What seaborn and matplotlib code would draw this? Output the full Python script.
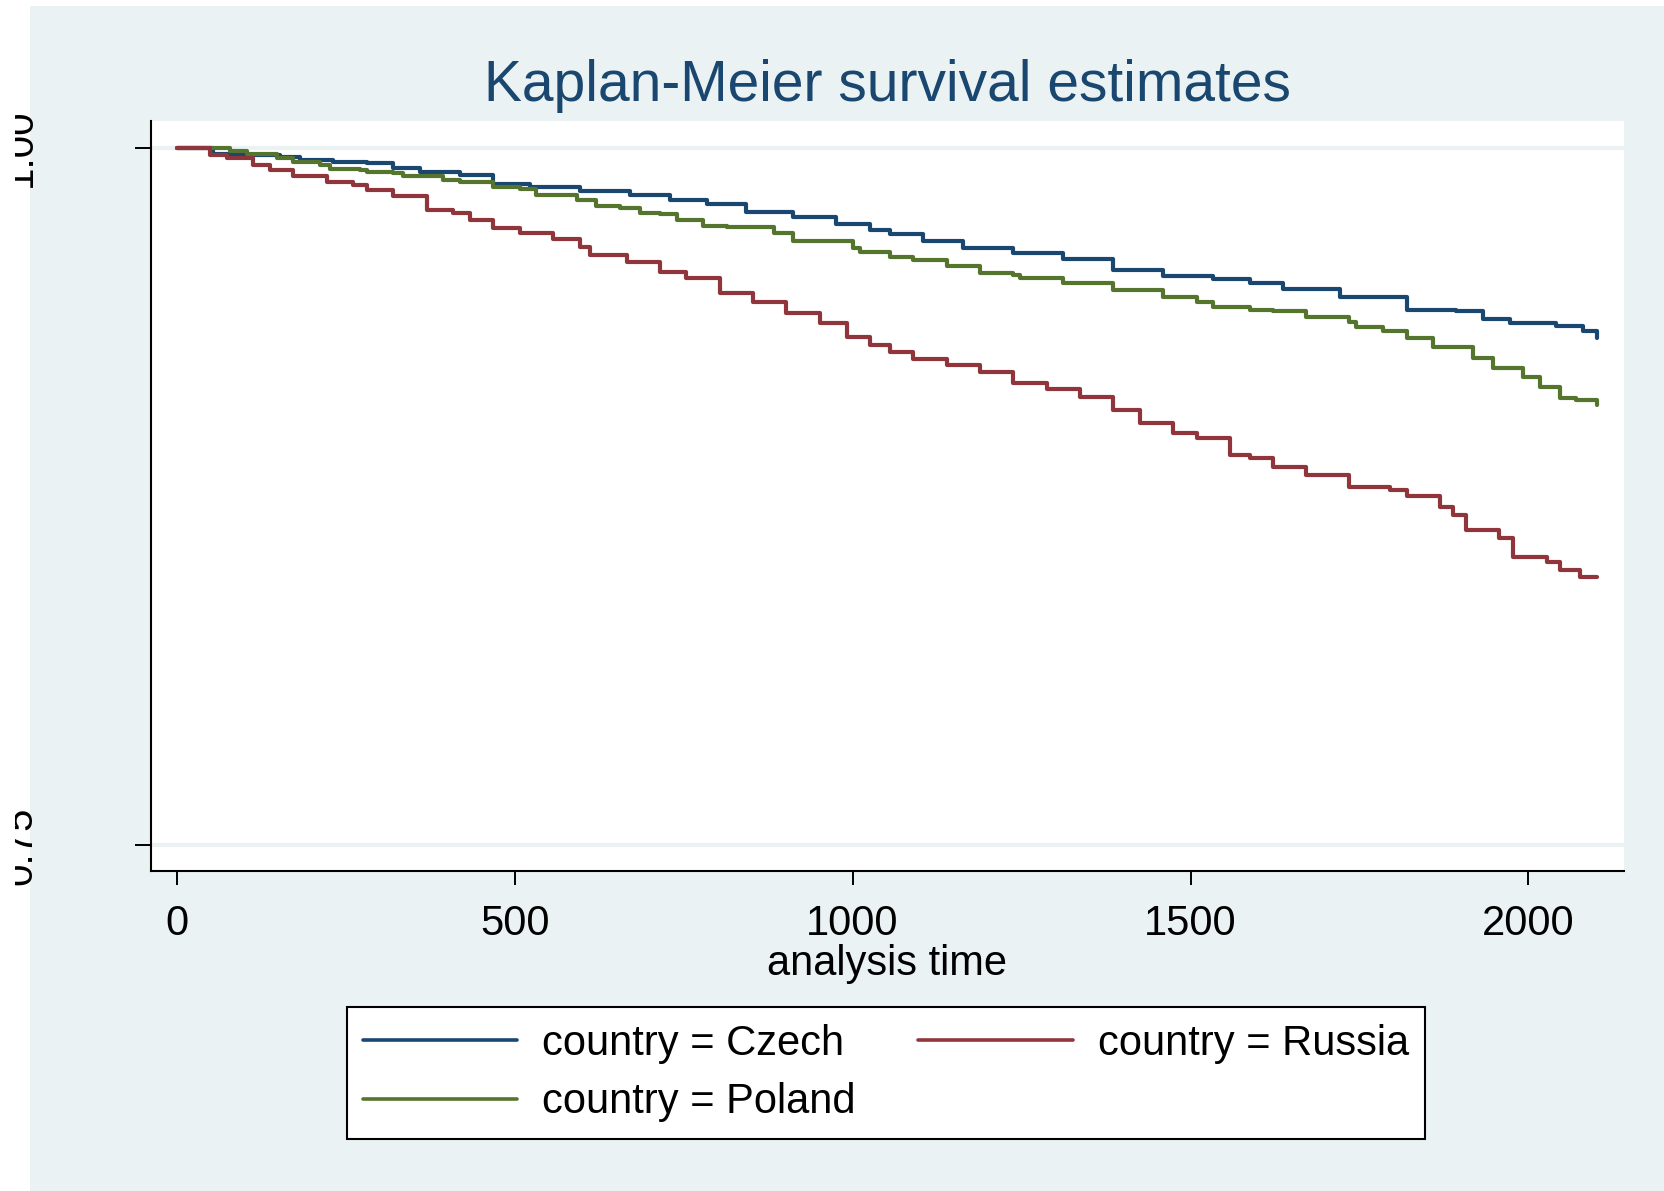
import numpy as np
import pandas as pd
import matplotlib
matplotlib.use("Agg")
import matplotlib.pyplot as plt
import seaborn as sns
from matplotlib.patches import Rectangle
from matplotlib.lines import Line2D
from matplotlib.transforms import Bbox, TransformedBbox, IdentityTransform

# ---------------- data ----------------
countries = ["Czech", "Poland", "Russia"]

czech_time = [0, 54, 89, 153, 182, 232, 281, 320, 360, 419, 468, 523, 597, 671, 730, 784,
              843, 912, 976, 1026, 1055, 1104, 1164, 1238, 1312, 1385, 1459, 1533, 1588,
              1637, 1721, 1820, 1893, 1933, 1972, 2041, 2081, 2101]
czech_surv = [1.0, 0.9977, 0.9974, 0.9968, 0.9956, 0.9948, 0.9944, 0.9926, 0.9914, 0.9902,
              0.9872, 0.9858, 0.9846, 0.9831, 0.9813, 0.9797, 0.9771, 0.9751, 0.9727, 0.9705,
              0.9691, 0.9667, 0.9642, 0.9622, 0.9600, 0.9562, 0.9540, 0.9528, 0.9514, 0.9493,
              0.9466, 0.9418, 0.9415, 0.9386, 0.9373, 0.9361, 0.9344, 0.9319]

poland_time = [0, 79, 104, 148, 172, 212, 227, 271, 281, 320, 335, 394, 419, 468, 508, 532,
               592, 621, 656, 685, 715, 740, 779, 814, 883, 912, 1001, 1011, 1055, 1090, 1139,
               1188, 1238, 1247, 1312, 1385, 1459, 1509, 1533, 1588, 1622, 1671, 1735, 1745,
               1785, 1820, 1859, 1918, 1948, 1992, 2017, 2046, 2071, 2101]
poland_surv = [1.0, 0.9988, 0.9977, 0.9962, 0.9948, 0.9938, 0.9924, 0.9920, 0.9914, 0.9910,
               0.9899, 0.9884, 0.9876, 0.9860, 0.9851, 0.9830, 0.9813, 0.9791, 0.9783, 0.9767,
               0.9762, 0.9743, 0.9721, 0.9717, 0.9695, 0.9666, 0.9640, 0.9627, 0.9607, 0.9598,
               0.9576, 0.9550, 0.9544, 0.9532, 0.9514, 0.9490, 0.9466, 0.9448, 0.9430, 0.9418,
               0.9416, 0.9394, 0.9377, 0.9356, 0.9344, 0.9317, 0.9287, 0.9245, 0.9210, 0.9177,
               0.9144, 0.9102, 0.9096, 0.9078]

russia_time = [0, 49, 74, 113, 138, 172, 222, 261, 281, 320, 370, 409, 434, 468, 508, 557,
               597, 611, 666, 715, 754, 804, 853, 902, 952, 991, 1026, 1055, 1090, 1139, 1188,
               1238, 1287, 1336, 1385, 1425, 1474, 1509, 1558, 1588, 1622, 1671, 1735, 1795,
               1820, 1869, 1888, 1908, 1957, 1977, 2027, 2046, 2076, 2101]
russia_surv = [1.0, 0.9974, 0.9962, 0.9938, 0.9920, 0.9899, 0.9878, 0.9866, 0.9848, 0.9827,
               0.9777, 0.9765, 0.9741, 0.9711, 0.9695, 0.9672, 0.9643, 0.9616, 0.9592, 0.9556,
               0.9532, 0.9478, 0.9448, 0.9407, 0.9371, 0.9323, 0.9293, 0.9269, 0.9242, 0.9221,
               0.9197, 0.9158, 0.9134, 0.9108, 0.9060, 0.9012, 0.8977, 0.8959, 0.8899, 0.8887,
               0.8857, 0.8827, 0.8785, 0.8774, 0.8752, 0.8714, 0.8684, 0.8630, 0.8601, 0.8535,
               0.8517, 0.8487, 0.8463, 0.8463]

x_ticks = [0, 500, 1000, 1500, 2000]
y_ticks = [0.75, 1.00]
y_tick_labels = ["0.75", "1.00"]

title_text = "Kaplan-Meier survival estimates"
x_label = "analysis time"

# ---------------- styling ----------------
colors = {"Czech": "#1a476f", "Poland": "#55752f", "Russia": "#90353b"}
bg = "#EAF2F3"

sns.set_theme(style="white")
plt.rcParams["font.family"] = ["Liberation Sans", "DejaVu Sans"]
plt.rcParams["text.color"] = "black"
plt.rcParams["axes.labelcolor"] = "black"
plt.rcParams["xtick.color"] = "black"
plt.rcParams["ytick.color"] = "black"

W, H = 1665, 1191
fig = plt.figure(figsize=(W / 100, H / 100), dpi=100, facecolor="white")
fig.patches.append(Rectangle((30 / W, 0), 1 - 30 / W, 1 - 6 / H, transform=fig.transFigure,
                             facecolor=bg, edgecolor="none", zorder=-10))

ax = fig.add_axes([150.8 / W, 1 - 870.8 / H, (1624 - 150.8) / W, (870.8 - 121) / H])
ax.set_facecolor("white")

df = pd.concat([
    pd.DataFrame({"time": czech_time, "surv": czech_surv, "country": "Czech"}),
    pd.DataFrame({"time": poland_time, "surv": poland_surv, "country": "Poland"}),
    pd.DataFrame({"time": russia_time, "surv": russia_surv, "country": "Russia"}),
], ignore_index=True)

sns.lineplot(data=df, x="time", y="surv", hue="country", hue_order=countries,
             palette=colors, estimator=None, drawstyle="steps-post", linewidth=3.0,
             legend=False, ax=ax)

ax.set_xlim(-38.3, 2141.3)
ax.set_ylim(0.7409, 1.0096)
ax.set_xticks(x_ticks)
ax.set_xticklabels([str(t) for t in x_ticks], fontsize=30)
ax.set_yticks(y_ticks)
ax.set_yticklabels(y_tick_labels, fontsize=29, rotation=90, va="center")

ax.yaxis.grid(True, color=bg, linewidth=3)
ax.xaxis.grid(False)
ax.set_axisbelow(True)

for s in ["top", "right"]:
    ax.spines[s].set_visible(False)
for s in ["left", "bottom"]:
    ax.spines[s].set_color("black")
    ax.spines[s].set_linewidth(1.5)

ax.tick_params(axis="x", bottom=True, direction="out", length=10, width=1.4,
               color="black", pad=14, labelcolor="black")
ax.tick_params(axis="y", left=True, direction="out", length=11.5, width=1.4,
               color="black", pad=69, labelcolor="black")

ax.set_xlabel(x_label, fontsize=30, labelpad=0, color="black")
ax.set_ylabel("")

fig.text(887 / W, 1 - 86 / H, title_text, fontsize=41, color="#1a476f",
         ha="center", va="center")

handles = [Line2D([], [], color=colors[c], linewidth=2.6) for c in countries]
labels = [f"country = {c}" for c in countries]
leg = fig.legend(handles, labels, ncol=2, loc="center",
                 bbox_to_anchor=(886 / W, 1 - 1073 / H), fontsize=30,
                 frameon=True, fancybox=False, edgecolor="black", facecolor="white",
                 framealpha=1, handlelength=3.7, handletextpad=0.6, columnspacing=1.5,
                 labelspacing=0.45, borderpad=0.4)
leg.get_frame().set_linewidth(1.5)
for t in leg.get_texts():
    t.set_color("black")

fig.canvas.draw()
clip = TransformedBbox(Bbox([[15, -50], [W + 50, H + 50]]), IdentityTransform())
for lbl in ax.get_yticklabels():
    lbl.set_clip_box(clip)
    lbl.set_clip_on(True)

fig.savefig("out.png", dpi=100, facecolor="white")
